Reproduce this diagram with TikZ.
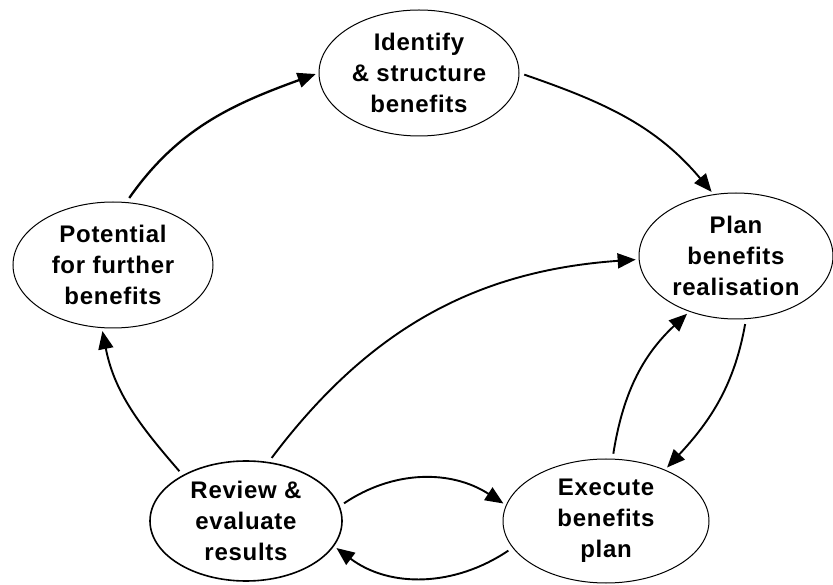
\documentclass[tikz,border=0pt]{standalone}
\usepackage{fontspec}
\newfontfamily\stagefont[LetterSpace=3]{Liberation Sans}
\usetikzlibrary{shapes.geometric,positioning,arrows.meta}

\tikzset{
  stage/.style={ellipse, draw, line width=1pt, minimum width=200pt, minimum height=126pt,
    inner sep=0pt, align=center, font=\stagefont\bfseries\fontsize{24}{31}\selectfont},
  flow/.style={-{Triangle[length=18pt,width=15pt]}, line width=1.9pt,
    shorten <=5pt, shorten >=3pt},
}

\begin{document}
\begin{tikzpicture}[x=1pt,y=1pt]
	\useasboundingbox (0,0) rectangle (833,584);
	\node[stage] (ident) at (419,511) {Identify\\\& structure\\benefits};
	\node[stage, minimum width=194pt, on grid, below right=183pt and 317pt of ident] (plan) {Plan\\benefits\\realisation};
	\node[stage, minimum width=206pt, minimum height=124pt, on grid, below left=265pt and 130pt of plan] (exec) {Execute\\benefits\\plan};
	\node[stage, minimum width=192pt, minimum height=120pt, line width=1.6pt, on grid, left=360pt of exec] (review) {Review \&\\evaluate\\results};
	\node[stage, on grid, above left=256pt and 133pt of review] (potent) {Potential\\for further\\benefits};
	
	% cycle
	\draw[flow, line width=2.3pt] (potent.78) to[out=55, in=200] (ident.180);
	\draw[flow] (ident.0) to[out=-19, in=130] (plan.110);
	\draw[flow] (plan.-81) to[out=-100, in=47] (exec.41);
	\draw[flow] (exec.84) to[out=81, in=223] (plan.230);
	\draw[flow] (review.69) to[out=53, in=184] (plan.182);
	\draw[flow] (review.144) to[out=131, in=-79] (potent.260);
	\draw[flow] (review.9) to[out=34, in=147] (exec.171);
	\draw[flow] (exec.196) to[out=214, in=-37] (review.-16);
\end{tikzpicture}
\end{document}
